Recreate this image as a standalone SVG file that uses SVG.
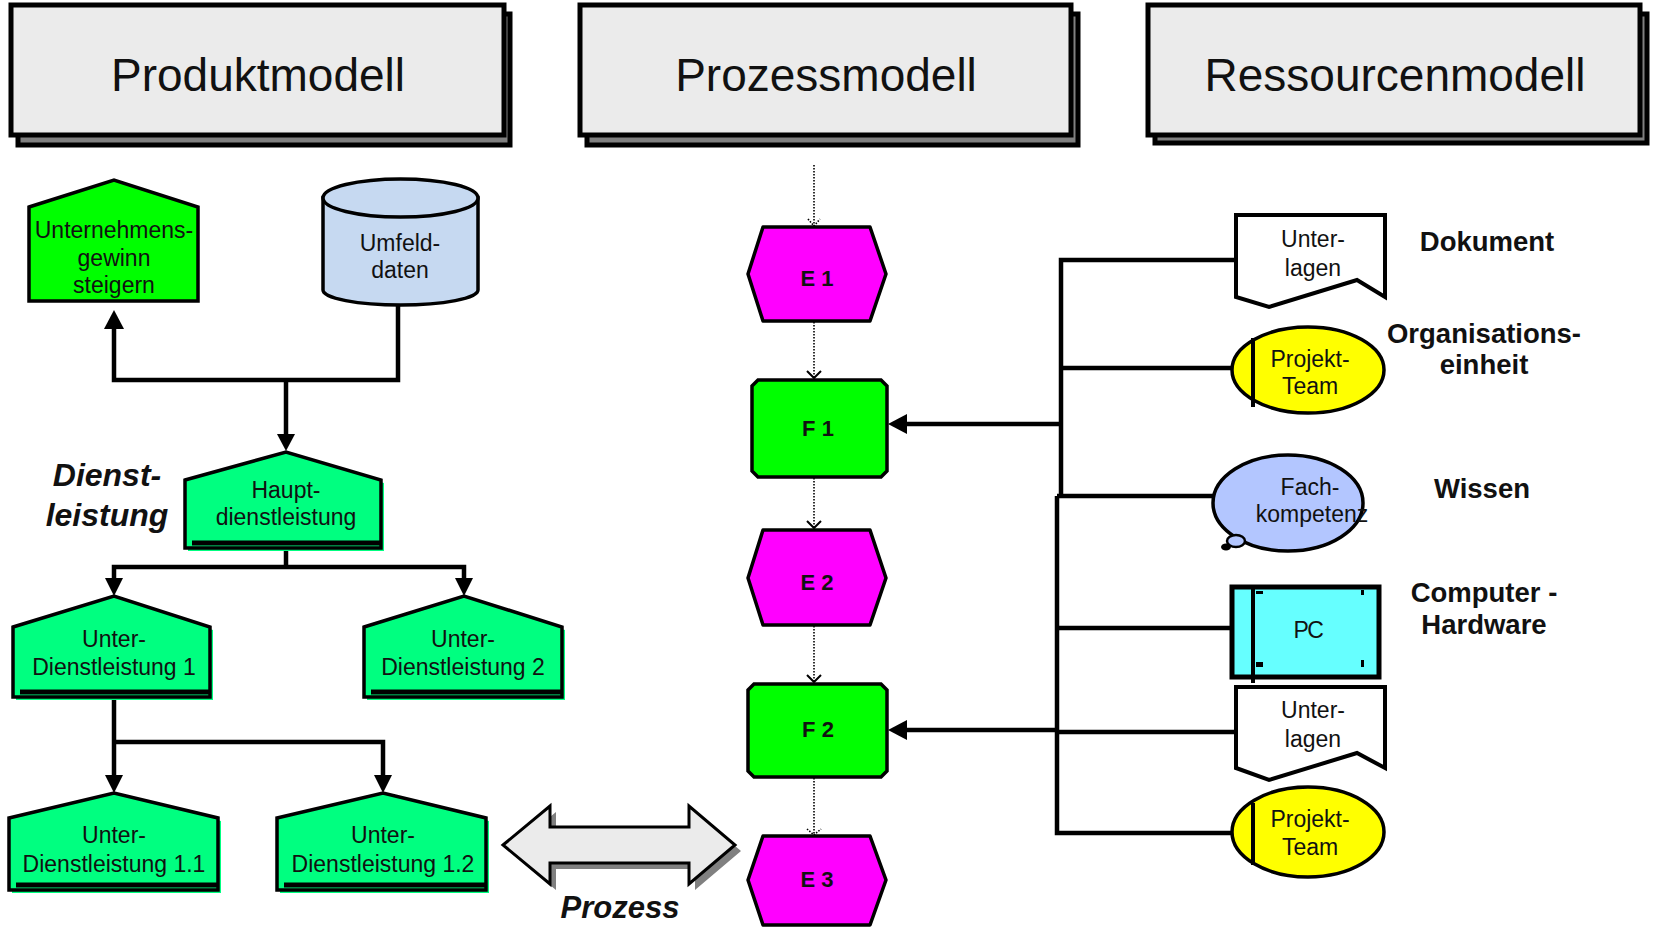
<svg xmlns="http://www.w3.org/2000/svg" width="1654" height="929" viewBox="0 0 1654 929">
<defs>
<style>
text{font-family:"Liberation Sans",Arial,sans-serif;fill:#111}
.hdr{font-size:46px;text-anchor:middle}
.hbox{fill:#ebebeb;stroke:#000;stroke-width:5}
.hsh{fill:#808080;stroke:#000;stroke-width:5}
.nt{font-size:23px;text-anchor:middle}
.ef{font-size:22px;font-weight:bold;text-anchor:middle}
.lbl{font-size:27.5px;font-weight:bold;text-anchor:middle}
.it{font-size:32px;font-weight:bold;font-style:italic;text-anchor:middle}
.dl{fill:#00ff80;stroke:#000;stroke-width:3.5;stroke-linejoin:miter}
.dlsh{fill:#00ff80}
.bar{stroke:#000;stroke-width:5}
.ev{fill:#ff00ff;stroke:#000;stroke-width:3.5;stroke-linejoin:round}
.fn{fill:#00ff00;stroke:#000;stroke-width:3.5}
.ln{fill:none;stroke:#000;stroke-width:4.5}
.dot{fill:none;stroke:#000;stroke-width:1.6;stroke-dasharray:1.5 1.5}
.chev{fill:none;stroke:#000;stroke-width:2}
.doc{fill:#fff;stroke:#000;stroke-width:4;stroke-linejoin:miter}
.org{fill:#ffff00;stroke:#000;stroke-width:3.5}
</style>
</defs>

<g id="hdr-produkt">
<rect class="hsh" x="18" y="14" width="492" height="131"/>
<rect class="hbox" x="11" y="5" width="493" height="130"/>
<text class="hdr" x="258" y="91">Produktmodell</text>
</g>
<g id="hdr-prozess">
<rect class="hsh" x="587" y="14" width="491" height="131"/>
<rect class="hbox" x="580" y="5" width="491" height="130"/>
<text class="hdr" x="826" y="91">Prozessmodell</text>
</g>
<g id="hdr-ressourcen">
<rect class="hsh" x="1155" y="14" width="492" height="129"/>
<rect class="hbox" x="1148" y="5" width="492" height="130"/>
<text class="hdr" x="1395" y="91">Ressourcenmodell</text>
</g>

<g id="connectors">
<polyline class="ln" points="398,305 398,380 114,380 114,328"/>
<path d="M104,329 L114,310 L124,329 Z" fill="#000"/>
<polyline class="ln" points="286,380 286,436"/>
<path d="M277,434 L286,451 L295,434 Z" fill="#000"/>
<polyline class="ln" points="286,548 286,567"/>
<polyline class="ln" points="114,580 114,567 464,567 464,580"/>
<path d="M105,578 L114,596 L123,578 Z" fill="#000"/>
<path d="M455,578 L464,596 L473,578 Z" fill="#000"/>
<polyline class="ln" points="114,697 114,777"/>
<polyline class="ln" points="114,742 383,742 383,777"/>
<path d="M105,775 L114,793 L123,775 Z" fill="#000"/>
<path d="M374,775 L383,793 L392,775 Z" fill="#000"/>
<line class="dot" x1="814" y1="165" x2="814" y2="226"/>
<path class="dot" d="M808,219 L814,226 L820,219"/>
<line class="dot" x1="814" y1="322" x2="814" y2="378"/>
<path class="chev" d="M807,371 L814,378 L821,371"/>
<line class="dot" x1="814" y1="478" x2="814" y2="528"/>
<path class="chev" d="M807,521 L814,528 L821,521"/>
<line class="dot" x1="814" y1="626" x2="814" y2="682"/>
<path class="chev" d="M807,675 L814,682 L821,675"/>
<line class="dot" x1="814" y1="778" x2="814" y2="835"/>
<path class="dot" d="M807,829 L814,835 L821,829"/>
<polyline class="ln" points="1236,260 1061,260 1061,498"/>
<polyline class="ln" points="1057,496 1057,833 1232,833"/>
<line class="ln" x1="1061" y1="368" x2="1232" y2="368"/>
<line class="ln" x1="1057" y1="496" x2="1240" y2="496"/>
<line class="ln" x1="1057" y1="628" x2="1232" y2="628"/>
<line class="ln" x1="1057" y1="732" x2="1236" y2="732"/>
<line class="ln" x1="1061" y1="424" x2="905" y2="424"/>
<path d="M907,414 L888,424 L907,434 Z" fill="#000"/>
<line class="ln" x1="1057" y1="730" x2="905" y2="730"/>
<path d="M907,720 L888,730 L907,740 Z" fill="#000"/>
</g>

<g id="n-unternehmen">
<polygon points="29,207 114,180 198,207 198,301 29,301" fill="#00ff00" stroke="#000" stroke-width="3.5"/>
<text class="nt" x="114" y="238">Unternehmens-</text>
<text class="nt" x="114" y="266">gewinn</text>
<text class="nt" x="114" y="293">steigern</text>
</g>

<g id="n-umfeld">
<path d="M323,198 L323,290 A77.5,15 0 0 0 478,290 L478,198 Z" fill="#c6d9f1" stroke="#000" stroke-width="3.5"/>
<ellipse cx="400.5" cy="198" rx="77.5" ry="19" fill="#c6d9f1" stroke="#000" stroke-width="3.5"/>
<text class="nt" x="400" y="251">Umfeld-</text>
<text class="nt" x="400" y="278">daten</text>
</g>

<g id="n-haupt">
<polygon class="dlsh" points="188,483 289,455 384,483 384,551 188,551"/>
<polygon class="dl" points="185,480 286,452 381,480 381,548 185,548"/>
<line class="bar" x1="192" y1="543" x2="381" y2="543"/>
<text class="nt" x="286" y="498">Haupt-</text>
<text class="nt" x="286" y="525">dienstleistung</text>
</g>

<g id="lbl-dienst">
<text class="it" x="107" y="486">Dienst-</text>
<text class="it" x="107" y="526">leistung</text>
</g>

<g id="n-udl1">
<polygon class="dlsh" points="16,630 117,599 213,630 213,700 16,700"/>
<polygon class="dl" points="13,627 114,596 210,627 210,697 13,697"/>
<line class="bar" x1="20" y1="692" x2="210" y2="692"/>
<text class="nt" x="114" y="647">Unter-</text>
<text class="nt" x="114" y="675">Dienstleistung 1</text>
</g>

<g id="n-udl2">
<polygon class="dlsh" points="367,630 467,599 565,630 565,700 367,700"/>
<polygon class="dl" points="364,627 464,596 562,627 562,697 364,697"/>
<line class="bar" x1="371" y1="692" x2="562" y2="692"/>
<text class="nt" x="463" y="647">Unter-</text>
<text class="nt" x="463" y="675">Dienstleistung 2</text>
</g>

<g id="n-udl11">
<polygon class="dlsh" points="12,821 117,796 221,821 221,893 12,893"/>
<polygon class="dl" points="9,818 114,793 218,818 218,890 9,890"/>
<line class="bar" x1="16" y1="885" x2="218" y2="885"/>
<text class="nt" x="114" y="843">Unter-</text>
<text class="nt" x="114" y="872">Dienstleistung 1.1</text>
</g>

<g id="n-udl12">
<polygon class="dlsh" points="280,821 386,796 489,821 489,893 280,893"/>
<polygon class="dl" points="277,818 383,793 486,818 486,890 277,890"/>
<line class="bar" x1="284" y1="885" x2="486" y2="885"/>
<text class="nt" x="383" y="843">Unter-</text>
<text class="nt" x="383" y="872">Dienstleistung 1.2</text>
</g>

<g id="n-prozess-arrow">
<polygon points="509,851 556,812 556,833 695,833 695,812 741,851 695,890 695,869 556,869 556,890" fill="#808080"/>
<polygon points="503,845 550,806 550,827 689,827 689,806 735,845 689,884 689,863 550,863 550,884" fill="#ebebeb" stroke="#000" stroke-width="3"/>
<text class="it" x="620" y="918" style="font-size:31px">Prozess</text>
</g>

<g id="n-e1">
<polygon class="ev" points="763,227 870,227 886,274 870,321 763,321 748,274"/>
<text class="ef" x="817" y="286">E 1</text>
</g>
<g id="n-f1">
<path class="fn" d="M758,380 H881 L887,386 V471 L881,477 H758 L752,471 V386 Z"/>
<text class="ef" x="818" y="436">F 1</text>
</g>
<g id="n-e2">
<polygon class="ev" points="763,530 870,530 886,578 870,625 763,625 748,578"/>
<text class="ef" x="817" y="590">E 2</text>
</g>
<g id="n-f2">
<path class="fn" d="M754,684 H881 L887,690 V771 L881,777 H754 L748,771 V690 Z"/>
<text class="ef" x="818" y="737">F 2</text>
</g>
<g id="n-e3">
<polygon class="ev" points="763,836 870,836 886,880 870,925 763,925 748,880"/>
<text class="ef" x="817" y="887">E 3</text>
</g>

<g id="n-doc1">
<path class="doc" d="M1236,215 H1385 V297 L1357,280 L1269,307 L1236,297 Z"/>
<text class="nt" x="1313" y="247">Unter-</text>
<text class="nt" x="1313" y="276">lagen</text>
</g>
<g id="lbl-dokument"><text class="lbl" x="1487" y="251">Dokument</text></g>

<g id="n-team1">
<ellipse class="org" cx="1308" cy="370" rx="76" ry="43"/>
<line x1="1253" y1="338" x2="1253" y2="407" stroke="#000" stroke-width="4"/>
<text class="nt" x="1310" y="367">Projekt-</text>
<text class="nt" x="1310" y="394">Team</text>
</g>
<g id="lbl-org">
<text class="lbl" x="1484" y="343">Organisations-</text>
<text class="lbl" x="1484" y="374">einheit</text>
</g>

<g id="n-fach">
<ellipse cx="1288" cy="503" rx="75" ry="48" fill="#b3c6ff" stroke="#000" stroke-width="3.5"/>
<ellipse cx="1236" cy="541" rx="9" ry="6" fill="#b3c6ff" stroke="#000" stroke-width="2.5"/>
<ellipse cx="1226" cy="547" rx="5" ry="3.5" fill="#000"/>
<text class="nt" x="1310" y="495">Fach-</text>
<text class="nt" x="1312" y="522">kompetenz</text>
</g>
<g id="lbl-wissen"><text class="lbl" x="1482" y="498">Wissen</text></g>

<g id="n-pc">
<rect x="1232" y="587" width="147" height="90" fill="#66ffff" stroke="#000" stroke-width="5"/>
<line x1="1253" y1="587" x2="1253" y2="683" stroke="#000" stroke-width="4"/>
<rect x="1256" y="591" width="7" height="3" fill="#000"/>
<rect x="1361" y="590" width="3" height="5" fill="#000"/>
<rect x="1256" y="662" width="7" height="5" fill="#000"/>
<rect x="1361" y="660" width="3" height="7" fill="#000"/>
<text class="nt" x="1308" y="638" style="letter-spacing:-1.5px">PC</text>
</g>
<g id="lbl-hw">
<text class="lbl" x="1484" y="602">Computer -</text>
<text class="lbl" x="1484" y="634">Hardware</text>
</g>

<g id="n-doc2">
<path class="doc" d="M1236,687 H1385 V768 L1357,753 L1269,780 L1236,768 Z"/>
<text class="nt" x="1313" y="718">Unter-</text>
<text class="nt" x="1313" y="747">lagen</text>
</g>

<g id="n-team2">
<ellipse class="org" cx="1308" cy="832" rx="76" ry="45"/>
<line x1="1253" y1="803" x2="1253" y2="865" stroke="#000" stroke-width="4"/>
<text class="nt" x="1310" y="827">Projekt-</text>
<text class="nt" x="1310" y="855">Team</text>
</g>
</svg>
